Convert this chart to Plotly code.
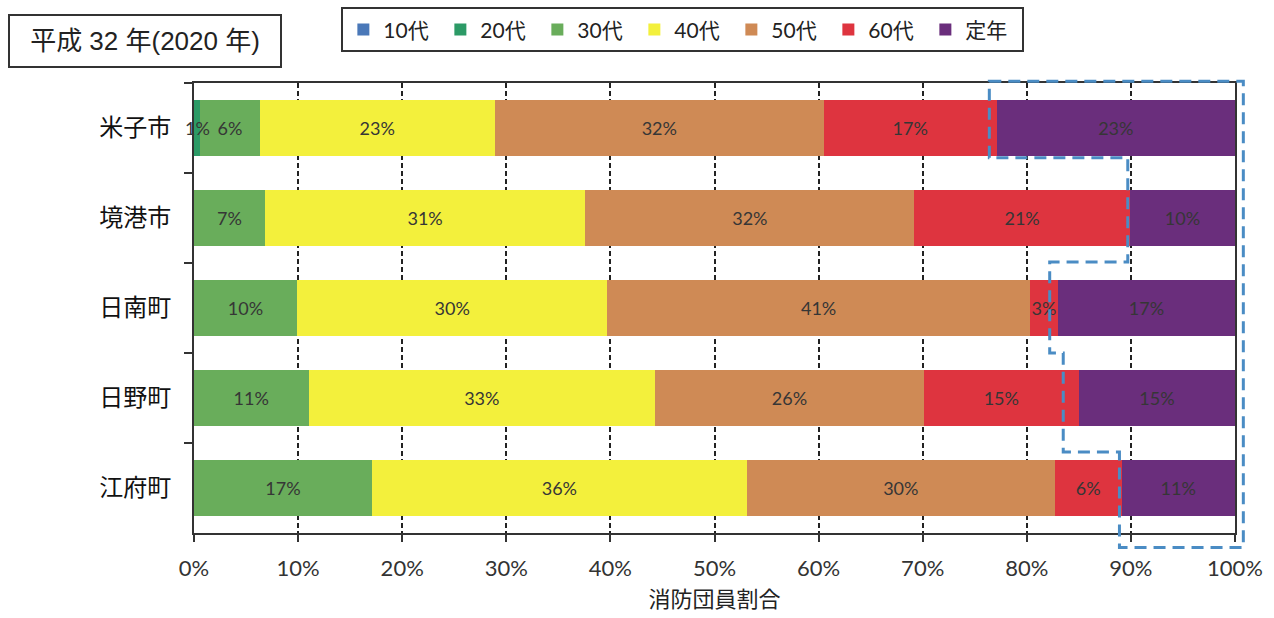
import plotly.graph_objects as go

# Fire brigade members by age group, share of each town's total (%)
towns = ["米子市", "境港市", "日南町", "日野町", "江府町"]
age_groups = ["10代", "20代", "30代", "40代", "50代", "60代", "定年"]

share_10s = [0.0, 0.0, 0.0, 0.0, 0.0]
share_20s = [0.6, 0.0, 0.0, 0.0, 0.0]
share_30s = [5.7, 6.8, 9.9, 11.0, 17.1]
share_40s = [22.6, 30.8, 29.8, 33.3, 36.0]
share_50s = [31.6, 31.6, 40.6, 25.8, 29.6]
share_60s = [16.6, 20.7, 2.7, 14.9, 6.4]
share_retired = [22.9, 10.1, 17.0, 15.0, 10.9]

x_ticks = [0, 10, 20, 30, 40, 50, 60, 70, 80, 90, 100]

series = [share_10s, share_20s, share_30s, share_40s, share_50s, share_60s, share_retired]
colors = ["#4a78b8", "#2c9a66", "#69ad5b", "#f3f03c", "#cf8a55", "#de343f", "#6a2e7c"]

LATIN = "Lato, 'Noto Sans CJK JP', sans-serif"
CJK = "'Noto Sans CJK JP', sans-serif"
LABEL_FONT = dict(family=LATIN, size=18, color="#363636")
X_MAX = 100.0001
Y_RANGE = (4.5, -0.5)

fig = go.Figure()
for name, vals, col in zip(age_groups, series, colors):
    # Slivers too thin to hold their label get it as a floating annotation
    inside = [f"{v:.0f}%" if v >= 1.5 else "" for v in vals]
    fig.add_trace(go.Bar(
        y=towns,
        x=vals,
        name=name,
        orientation="h",
        marker=dict(color=col, line=dict(width=0)),
        text=inside,
        textposition="inside",
        insidetextanchor="middle",
        textangle=0,
        constraintext="none",
        textfont=LABEL_FONT,
        hoverinfo="skip",
    ))
    for town, v in zip(towns, vals):
        if 0 < v < 1.5:
            fig.add_annotation(
                x=v / 2, y=town, xref="x", yref="y",
                text=f"{v:.0f}%", showarrow=False,
                font=LABEL_FONT, xanchor="center",
            )


def to_paper(px, py):
    """Data units (x in %, y in category index) -> paper fractions."""
    return px / X_MAX, (Y_RANGE[0] - py) / (Y_RANGE[0] - Y_RANGE[1])


# Highlight outline around the older-member block (x in %, y in category index)
outline = [
    (76.4, -0.52), (100.8, -0.52), (100.8, 4.66), (88.9, 4.66), (88.9, 3.6),
    (83.5, 3.6), (83.5, 2.5), (82.2, 2.5), (82.2, 1.49), (89.7, 1.49),
    (89.7, 0.33), (76.4, 0.33),
]
pts = [to_paper(px, py) for px, py in outline]
path = "M " + " L ".join(f"{a:.5f},{b:.5f}" for a, b in pts) + " Z"
fig.add_shape(
    type="path", path=path, xref="paper", yref="paper",
    line=dict(color="#4a8cc4", width=3, dash="12px,7px"),
    fillcolor="rgba(0,0,0,0)", layer="above",
)

# Period label box
fig.add_annotation(
    text="平成 32 年(2020 年)",
    xref="paper", yref="paper",
    x=-0.1788, y=1.153, xanchor="left", yanchor="top",
    showarrow=False,
    font=dict(family="'Liberation Sans', 'Noto Sans CJK JP', sans-serif", size=26, color="#222222"),
    width=250, height=30, borderpad=10,
    bordercolor="#333333", borderwidth=2, bgcolor="white",
)

fig.update_layout(
    width=1274, height=618,
    margin=dict(l=194, r=39, t=83, b=85, autoexpand=False),
    paper_bgcolor="white",
    plot_bgcolor="white",
    barmode="stack",
    bargap=0.37,
    showlegend=True,
    legend=dict(
        orientation="h",
        xref="container", yref="container",
        x=0.536, xanchor="center",
        y=0.988, yanchor="top",
        font=dict(family=LATIN, size=21, color="#222222"),
        bordercolor="#333333", borderwidth=2,
        bgcolor="white",
        itemwidth=30,
        entrywidth=52, entrywidthmode="pixels",
        traceorder="normal",
    ),
    xaxis=dict(
        range=[0, X_MAX],
        automargin=False,
        tickvals=x_ticks,
        ticktext=[f"{t}%" for t in x_ticks],
        tickfont=dict(family=LATIN, size=22, color="#333333"),
        ticks="outside", ticklen=7, tickwidth=2, tickcolor="#333333",
        ticklabelstandoff=8,
        showline=True, linecolor="#333333", linewidth=2, mirror=True,
        showgrid=True, gridcolor="#222222", gridwidth=2, griddash="5px,3px",
        zeroline=False,
        title=dict(text="消防団員割合", font=dict(family=CJK, size=22, color="#222222"), standoff=10),
    ),
    yaxis=dict(
        range=list(Y_RANGE),
        automargin=False,
        tickfont=dict(family=CJK, size=24, color="#111111"),
        ticks="outside", tickson="boundaries", ticklen=8, tickwidth=2, tickcolor="#333333",
        showline=True, linecolor="#333333", linewidth=2, mirror=True,
        showgrid=False,
        ticklabelstandoff=16,
    ),
)

fig.write_html("out.html")
